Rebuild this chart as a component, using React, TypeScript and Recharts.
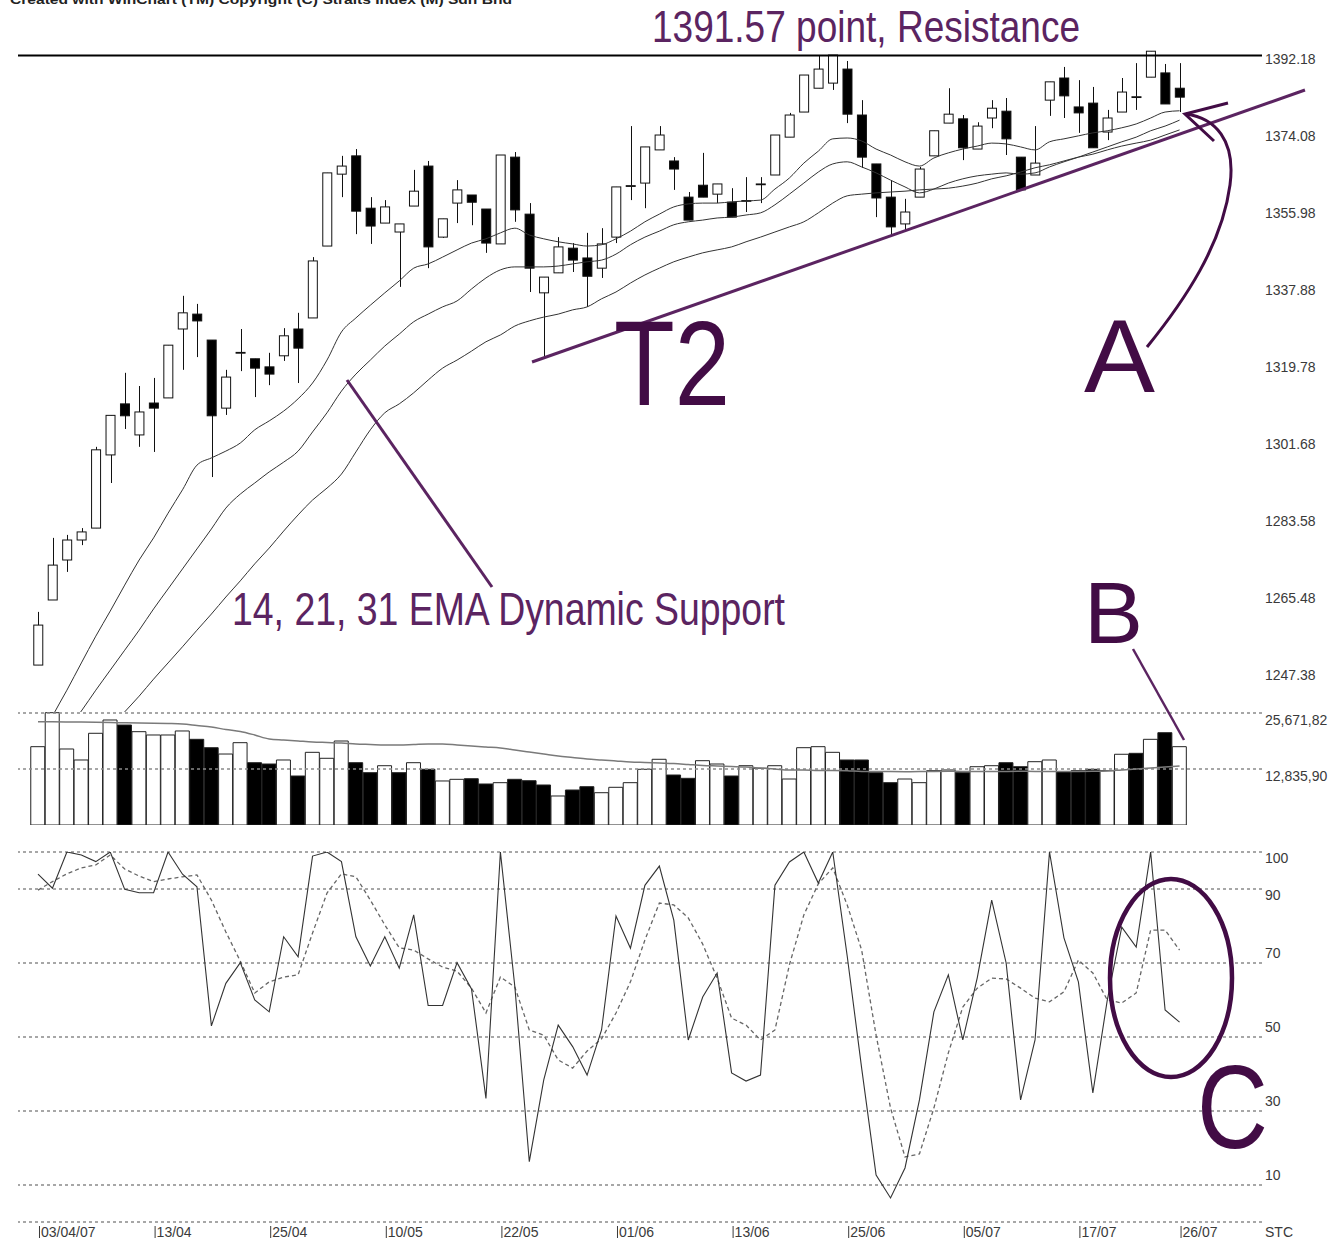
import React from 'react';
import { ComposedChart, Bar, Line, XAxis, YAxis, ReferenceLine, Cell } from 'recharts';

// ---------- DATA ----------
const openP = [
  1248.3, 1263.6, 1273.0, 1277.7, 1280.5, 1297.7, 1309.7, 1302.4, 1309.9, 1311.1,
  1327.3, 1330.8, 1324.7, 1308.7, 1321.7, 1320.3, 1318.4, 1321.0, 1327.3, 1329.9,
  1346.8, 1363.7, 1368.0, 1355.7, 1352.2, 1350.1, 1356.2, 1365.6, 1348.9, 1356.9,
  1358.8, 1355.5, 1347.3, 1367.7, 1354.3, 1335.8, 1340.5, 1346.3, 1344.0, 1341.6,
  1348.9, 1360.9, 1361.6, 1369.4, 1366.8, 1358.3, 1361.1, 1359.0, 1357.1, 1357.4,
  1361.3, 1363.5, 1372.4, 1378.3, 1383.9, 1385.1, 1388.4, 1377.6, 1366.1, 1358.3,
  1352.0, 1358.3, 1368.0, 1375.7, 1376.7, 1369.6, 1376.9, 1378.5, 1367.7, 1363.5,
  1381.1, 1386.3, 1379.5, 1380.4, 1373.6, 1378.3, 1381.8, 1386.5, 1387.5, 1383.9,
];
const highP = [
  1260.8, 1278.2, 1278.9, 1280.5, 1299.6, 1307.0, 1317.0, 1313.9, 1315.8, 1323.5,
  1335.1, 1333.2, 1324.7, 1317.7, 1327.3, 1320.3, 1321.7, 1327.5, 1331.1, 1344.2,
  1364.0, 1368.0, 1369.6, 1358.3, 1357.6, 1352.0, 1364.7, 1366.8, 1353.2, 1362.3,
  1358.8, 1355.5, 1368.2, 1368.9, 1356.9, 1339.5, 1348.9, 1347.5, 1349.9, 1351.0,
  1360.7, 1375.0, 1370.1, 1375.0, 1367.7, 1359.5, 1368.7, 1361.4, 1360.4, 1363.0,
  1363.0, 1372.9, 1378.1, 1387.0, 1391.7, 1391.7, 1390.3, 1381.1, 1366.1, 1362.3,
  1357.9, 1365.4, 1373.9, 1383.9, 1377.6, 1375.9, 1381.1, 1381.6, 1367.7, 1375.0,
  1385.4, 1388.9, 1385.8, 1384.2, 1378.8, 1386.3, 1389.8, 1392.6, 1389.6, 1389.8,
];
const lowP = [
  1248.3, 1263.6, 1270.2, 1276.5, 1280.5, 1291.1, 1303.8, 1299.6, 1298.4, 1311.1,
  1317.7, 1320.7, 1292.5, 1307.1, 1317.4, 1311.3, 1314.1, 1319.8, 1314.6, 1329.9,
  1346.8, 1358.3, 1349.6, 1347.3, 1352.2, 1337.2, 1356.2, 1341.6, 1348.7, 1352.2,
  1351.7, 1345.2, 1347.3, 1352.5, 1336.0, 1320.5, 1340.5, 1340.7, 1332.5, 1339.3,
  1347.5, 1357.6, 1355.7, 1369.4, 1360.0, 1352.9, 1358.3, 1356.9, 1353.6, 1354.8,
  1356.9, 1363.5, 1372.4, 1378.3, 1383.9, 1383.5, 1375.7, 1365.2, 1353.6, 1349.4,
  1350.3, 1358.3, 1368.0, 1375.7, 1367.0, 1369.6, 1374.5, 1368.2, 1360.0, 1363.5,
  1377.4, 1376.9, 1373.4, 1369.9, 1371.7, 1378.3, 1378.8, 1386.5, 1380.2, 1378.3,
];
const closeP = [
  1257.7, 1271.8, 1277.7, 1279.6, 1298.9, 1307.0, 1306.9, 1307.8, 1308.7, 1323.5,
  1331.1, 1329.2, 1306.9, 1316.0, 1321.8, 1318.1, 1316.7, 1325.7, 1322.8, 1343.3,
  1364.0, 1365.6, 1355.0, 1351.5, 1356.0, 1352.0, 1359.7, 1346.6, 1353.2, 1360.0,
  1357.1, 1347.5, 1368.2, 1355.3, 1341.6, 1339.5, 1346.6, 1343.5, 1339.7, 1347.3,
  1360.7, 1361.0, 1370.1, 1372.9, 1364.9, 1352.9, 1358.3, 1361.4, 1353.6, 1357.5,
  1361.4, 1372.9, 1377.6, 1387.0, 1388.4, 1391.7, 1377.8, 1367.7, 1358.1, 1351.3,
  1354.8, 1364.9, 1373.9, 1377.8, 1369.9, 1375.0, 1379.2, 1372.0, 1360.0, 1366.3,
  1385.4, 1382.1, 1378.1, 1369.9, 1376.9, 1383.0, 1381.9, 1392.6, 1380.2, 1381.8,
];
const ema14 = [
  1229.5, 1236.3, 1242.4, 1248.8, 1255.1, 1261.0, 1267.1, 1273.0, 1278.2, 1284.0,
  1289.5, 1295.3, 1297.0, 1298.6, 1300.5, 1303.6, 1305.7, 1308.0, 1310.9, 1314.6,
  1320.0, 1326.6, 1329.9, 1332.9, 1335.8, 1338.6, 1341.6, 1342.6, 1344.2, 1345.9,
  1347.5, 1348.5, 1349.9, 1351.0, 1349.4, 1348.5, 1347.8, 1347.3, 1346.8, 1347.1,
  1348.5, 1350.3, 1352.5, 1354.3, 1356.0, 1356.7, 1356.9, 1356.9, 1357.2, 1357.4,
  1357.6, 1360.2, 1362.8, 1366.3, 1369.1, 1372.0, 1372.2, 1371.5, 1369.6, 1368.2,
  1366.6, 1365.6, 1367.5, 1368.7, 1369.6, 1370.3, 1371.0, 1370.8, 1370.1, 1369.4,
  1371.3, 1372.0, 1372.7, 1373.4, 1373.9, 1374.6, 1375.5, 1376.9, 1378.3, 1378.6,
];
const ema21 = [
  1223.6, 1228.3, 1233.0, 1237.5, 1242.4, 1247.1, 1251.8, 1256.5, 1261.5, 1266.2,
  1270.9, 1275.6, 1280.3, 1285.2, 1288.5, 1291.1, 1293.7, 1296.0, 1298.6, 1303.1,
  1307.6, 1312.7, 1316.7, 1320.0, 1323.3, 1326.1, 1329.0, 1330.8, 1332.5, 1333.9,
  1336.7, 1339.3, 1341.2, 1341.9, 1341.9, 1341.9, 1342.1, 1342.6, 1343.1, 1343.5,
  1344.9, 1347.1, 1348.9, 1350.3, 1351.8, 1352.5, 1352.9, 1353.4, 1353.6, 1354.1,
  1354.6, 1356.5, 1359.0, 1361.6, 1364.2, 1366.1, 1366.6, 1365.4, 1364.0, 1362.3,
  1360.7, 1359.3, 1360.2, 1361.6, 1362.6, 1363.3, 1363.7, 1364.0, 1363.7, 1364.0,
  1365.4, 1366.6, 1367.7, 1368.9, 1370.1, 1371.3, 1372.4, 1373.9, 1375.0, 1376.4,
];
const ema31 = [
  1214.2, 1218.2, 1222.0, 1226.0, 1229.8, 1233.5, 1237.3, 1241.0, 1245.0, 1248.8,
  1252.6, 1256.5, 1260.3, 1264.3, 1268.1, 1272.1, 1275.8, 1279.8, 1283.6, 1287.1,
  1289.9, 1293.2, 1298.4, 1303.6, 1307.6, 1309.7, 1312.3, 1315.3, 1318.1, 1320.0,
  1322.1, 1324.3, 1325.9, 1328.0, 1329.2, 1330.1, 1330.8, 1331.8, 1332.5, 1334.4,
  1336.0, 1338.1, 1340.0, 1341.6, 1343.1, 1344.2, 1345.2, 1345.9, 1346.6, 1347.8,
  1348.9, 1350.1, 1351.3, 1352.5, 1354.6, 1356.9, 1358.6, 1359.0, 1359.3, 1359.5,
  1359.7, 1360.0, 1360.2, 1360.4, 1360.9, 1361.6, 1362.6, 1363.3, 1364.2, 1365.2,
  1365.9, 1366.8, 1367.7, 1368.4, 1369.4, 1370.3, 1371.0, 1371.7, 1372.9, 1374.1,
];
const volume = [
  17950, 25740, 17420, 14900, 21020, 24070, 22920, 21390, 20630, 20630,
  21550, 19640, 17720, 16270, 18870, 14280, 13980, 14900, 11230, 16660,
  15290, 19250, 14280, 11990, 13590, 11990, 14280, 12770, 10090, 10470,
  10610, 9400, 9700, 10470, 10150, 9170, 6650, 8020, 8780, 7400,
  8640, 9700, 12770, 15060, 11460, 10700, 14740, 13980, 11230, 13590,
  13000, 13590, 10540, 17720, 17950, 16660, 14900, 14900, 11990, 9700,
  10540, 9700, 12450, 12610, 11990, 13360, 13590, 14280, 13360, 14510,
  14900, 12220, 12450, 12770, 12450, 16210, 16430, 19640, 21160, 17950,
];
const volumeUp = [
  1, 1, 1, 1, 1, 1, 0, 1, 1, 1,
  1, 0, 0, 1, 1, 0, 0, 1, 0, 1,
  1, 1, 0, 0, 1, 0, 1, 0, 1, 1,
  0, 0, 1, 0, 0, 0, 1, 0, 0, 1,
  1, 1, 1, 1, 0, 0, 1, 1, 0, 1,
  1, 1, 1, 1, 1, 1, 0, 0, 0, 0,
  1, 1, 1, 1, 0, 1, 1, 0, 0, 1,
  1, 0, 0, 0, 1, 1, 0, 1, 0, 1,
];
const volumeMA = [
  23677, 23640, 23610, 23590, 23560, 23500, 23420, 23380, 23330, 23265,
  23150, 22806, 22463, 21890, 21431, 20629, 19712, 19483, 19254, 19024,
  18910, 18795, 18566, 18451, 18337, 18337, 18451, 18566, 18566, 18337,
  18108, 17878, 17649, 17191, 16732, 16274, 15815, 15472, 15128, 14899,
  14669, 14440, 14326, 14211, 14096, 13867, 13638, 13523, 13409, 13294,
  13065, 12836, 12607, 12607, 12492, 12492, 12446, 12263, 12290, 12240,
  12220, 12250, 12280, 12300, 12270, 12240, 12260, 12290, 12310, 12280,
  12250, 12240, 12270, 12308, 12377, 12607, 12836, 13065, 13294, 13523,
];
const stcK = [
  94.0, 90.2, 100, 99.2, 97.4, 100, 89.9, 89.0, 89.0, 100,
  94.0, 90.6, 53.0, 64.5, 70.1, 60.0, 56.8, 77.1, 71.7, 98.9,
  100, 97.4, 77.1, 69.2, 77.1, 68.6, 83.0, 58.5, 58.5, 70.1,
  63.0, 33.4, 100, 63.6, 16.3, 38.4, 53.2, 47.4, 39.7, 51.9,
  82.7, 74.0, 91.0, 96.2, 81.6, 49.2, 60.8, 67.3, 40.3, 38.1,
  39.7, 91.0, 97.3, 100, 91.6, 100, 71.9, 41.6, 12.7, 6.5,
  14.6, 33.0, 56.8, 66.8, 49.2, 66.0, 87.0, 70.0, 33.0, 49.2,
  100, 76.8, 64.9, 34.9, 60.0, 79.7, 74.3, 100, 57.3, 54.0,
];
const stcD = [
  89.7, 92.0, 94.1, 95.7, 96.5, 99.2, 95.4, 93.5, 92.0, 92.7,
  93.3, 93.8, 87.0, 78.4, 70.5, 61.9, 64.9, 66.2, 66.8, 78.1,
  88.9, 94.1, 93.3, 87.0, 80.3, 74.1, 73.5, 71.1, 68.9, 67.8,
  63.2, 56.5, 66.2, 63.5, 51.9, 50.5, 43.8, 41.6, 46.2, 49.5,
  56.5, 64.9, 76.2, 86.2, 85.7, 82.2, 75.1, 65.9, 55.1, 53.2,
  49.2, 51.9, 69.5, 83.0, 91.4, 95.7, 85.7, 73.5, 50.5, 30.8,
  17.6, 18.4, 30.8, 45.7, 58.1, 63.2, 65.9, 65.7, 63.2, 60.5,
  59.5, 62.2, 70.8, 67.3, 60.0, 59.2, 61.9, 78.9, 78.9, 73.5,
];
const priceTicks = [1392.18, 1374.08, 1355.98, 1337.88, 1319.78, 1301.68, 1283.58, 1265.48, 1247.38];
const volumeTicks = [25671.82, 12835.9];
const volumeTickLabels = ['25,671,82', '12,835,90'];
const stcTicks = [100, 90, 70, 50, 30, 10];
const stcGrid = [100, 90, 70, 50, 30, 10, 0];
const dateTickIndex = [0, 8, 16, 24, 32, 40, 48, 56, 64, 72, 79];
const dateTickLabels = ['03/04/07', '13/04', '25/04', '10/05', '22/05', '01/06', '13/06', '25/06', '05/07', '17/07', '26/07'];
const resistance = 1391.57;
const trendT2 = [
  { x: 34.19, y: 1319.54 },
  { x: 87.68, y: 1383.48 },
];

// ---------- STYLE ----------
const FONT = '"Liberation Sans", Arial, Helvetica, sans-serif';
const AXIS_COLOR = '#3a3a3a';
const PURPLE = '#5b2461';
const DARK_PURPLE = '#420c45';
const GRID = '#8a8a8a';
const X_DOMAIN: [number, number] = [-1.384, 84.706];
const PRICE_DOMAIN: [number, number] = [1237.27, 1394.06];
const VOL_DOMAIN: [number, number] = [0, 28651];

const rows = openP.map((o, i) => ({
  i,
  open: o,
  high: highP[i],
  low: lowP[i],
  close: closeP[i],
  range: [lowP[i], highP[i]],
  ema14: ema14[i],
  ema21: ema21[i],
  ema31: ema31[i],
  vol: volume[i],
  volMA: volumeMA[i],
  k: stcK[i],
  d: stcD[i],
}));

const Candle = (props: any) => {
  const { x, y, width, height, payload } = props;
  if (x == null || y == null || !payload) return null;
  const top = Math.min(y, y + height);
  const h = Math.abs(height);
  const { open, close, high, low } = payload;
  const span = high - low || 1;
  const ppu = h / span;
  const yO = top + (high - open) * ppu;
  const yC = top + (high - close) * ppu;
  const bodyTop = Math.min(yO, yC);
  const bodyH = Math.max(Math.abs(yO - yC), 0.8);
  const cx = Math.round(x + width / 2) + 0.5;
  const up = close >= open;
  return (
    <g>
      <line x1={cx} x2={cx} y1={top} y2={top + h} stroke="#111" strokeWidth={1} />
      <rect x={x} y={bodyTop} width={width} height={bodyH} fill={up ? '#fff' : '#000'} stroke="#111" strokeWidth={1} />
    </g>
  );
};

const PriceTick = (props: any) => {
  const { x, y, payload } = props;
  return (
    <text x={x} y={y} dy={11} textAnchor="start" fontFamily={FONT} fontSize={14} fill={AXIS_COLOR}>
      {Number(payload.value).toFixed(2)}
    </text>
  );
};

const VolTick = (props: any) => {
  const { x, y, payload } = props;
  const idx = volumeTicks.indexOf(payload.value);
  return (
    <text x={x} y={y} dy={12} textAnchor="start" fontFamily={FONT} fontSize={14} fill={AXIS_COLOR}>
      {idx >= 0 ? volumeTickLabels[idx] : payload.value}
    </text>
  );
};

const StcTick = (props: any) => {
  const { x, y, payload } = props;
  const v = Number(payload.value);
  const dy = v >= 90 ? 11 : -5;
  return (
    <text x={x} y={y} dy={dy} textAnchor="start" fontFamily={FONT} fontSize={14} fill={AXIS_COLOR}>
      {v}
    </text>
  );
};

const DateTick = (props: any) => {
  const { x, y, payload } = props;
  const idx = dateTickIndex.indexOf(payload.value);
  const label = idx >= 0 ? dateTickLabels[idx] : '';
  return (
    <g>
      <line x1={x + 1.5} x2={x + 1.5} y1={y} y2={y + 12} stroke={AXIS_COLOR} strokeWidth={1} />
      <text x={x + 3} y={y} dy={11} textAnchor="start" fontFamily={FONT} fontSize={14} fill={AXIS_COLOR}>
        {label}
      </text>
    </g>
  );
};

const PriceChart = () => (
  <ComposedChart width={1338} height={712} data={rows} margin={{ top: 45, right: 0, bottom: 0, left: 18 }}>
    <XAxis dataKey="i" type="number" domain={X_DOMAIN} allowDataOverflow hide />
    <YAxis
      orientation="right"
      width={76}
      type="number"
      domain={PRICE_DOMAIN}
      allowDataOverflow
      ticks={priceTicks}
      interval={0}
      tick={PriceTick}
      tickLine={false}
      axisLine={false}
      tickSize={0}
      tickMargin={3}
    />
    <ReferenceLine y={resistance} stroke="#000" strokeWidth={2} />
    <Line dataKey="ema31" type="monotone" stroke="#333" strokeWidth={1} dot={false} isAnimationActive={false} />
    <Line dataKey="ema21" type="monotone" stroke="#333" strokeWidth={1} dot={false} isAnimationActive={false} />
    <Line dataKey="ema14" type="monotone" stroke="#333" strokeWidth={1} dot={false} isAnimationActive={false} />
    <Bar dataKey="range" barSize={9} shape={Candle} isAnimationActive={false} />
    <ReferenceLine segment={trendT2} stroke={PURPLE} strokeWidth={3} ifOverflow="visible" />
  </ComposedChart>
);

const VolumeChart = () => (
  <ComposedChart width={1338} height={130} data={rows} margin={{ top: 0, right: 0, bottom: 5, left: 18 }}>
    <XAxis dataKey="i" type="number" domain={X_DOMAIN} allowDataOverflow hide />
    <YAxis
      orientation="right"
      width={76}
      type="number"
      domain={VOL_DOMAIN}
      allowDataOverflow
      ticks={volumeTicks}
      interval={0}
      tick={VolTick}
      tickLine={false}
      axisLine={false}
      tickSize={0}
      tickMargin={3}
    />
    {volumeTicks.map((v) => (
      <ReferenceLine key={v} y={v} stroke={GRID} strokeWidth={1.5} strokeDasharray="3 3" />
    ))}
    <Bar dataKey="vol" barSize={14} stroke="#222" strokeWidth={1} isAnimationActive={false}>
      {rows.map((r, i) => (
        <Cell key={i} fill={volumeUp[i] ? '#fff' : '#000'} />
      ))}
    </Bar>
    <Line dataKey="volMA" type="monotone" stroke="#7a7a7a" strokeWidth={1.5} dot={false} isAnimationActive={false} />
  </ComposedChart>
);

const StcChart = () => (
  <ComposedChart width={1338} height={403} data={rows} margin={{ top: 12, right: 0, bottom: 0, left: 18 }}>
    <XAxis
      dataKey="i"
      type="number"
      domain={X_DOMAIN}
      allowDataOverflow
      ticks={dateTickIndex}
      interval={0}
      tick={DateTick}
      height={21}
      tickSize={0}
      tickMargin={4}
      axisLine={false}
      tickLine={false}
    />
    <YAxis
      orientation="right"
      width={76}
      type="number"
      domain={[0, 100]}
      allowDataOverflow
      ticks={stcTicks}
      interval={0}
      tick={StcTick}
      tickLine={false}
      axisLine={false}
      tickSize={0}
      tickMargin={3}
    />
    {stcGrid.map((v) => (
      <ReferenceLine key={v} y={v} stroke={GRID} strokeWidth={1.5} strokeDasharray="3 3" />
    ))}
    <Line dataKey="d" type="linear" stroke="#666" strokeWidth={1.3} strokeDasharray="4 3" dot={false} isAnimationActive={false} />
    <Line dataKey="k" type="linear" stroke="#333" strokeWidth={1.1} dot={false} isAnimationActive={false} />
  </ComposedChart>
);

const Annotations = () => (
  <svg width={1338} height={1243} style={{ position: 'absolute', left: 0, top: 0, pointerEvents: 'none' }}>
    <text x={10} y={4} fontFamily={FONT} fontWeight="bold" fontSize={13} fill="#222" textLength={502} lengthAdjust="spacingAndGlyphs">
      Created with WinChart (TM)  Copyright (C) Straits Index (M) Sdn Bhd
    </text>
    <text x={652} y={42} fontFamily={FONT} fontSize={45} fill={PURPLE} textLength={428} lengthAdjust="spacingAndGlyphs">
      1391.57 point, Resistance
    </text>
    <text x={232} y={625} fontFamily={FONT} fontSize={46} fill={PURPLE} textLength={553} lengthAdjust="spacingAndGlyphs">
      14, 21, 31 EMA Dynamic Support
    </text>
    <text x={614} y={405} fontFamily={FONT} fontSize={121} fill={DARK_PURPLE} textLength={116} lengthAdjust="spacingAndGlyphs">
      T2
    </text>
    <text x={1084} y={392} fontFamily={FONT} fontSize={103} fill={DARK_PURPLE} textLength={71} lengthAdjust="spacingAndGlyphs">
      A
    </text>
    <text x={1084} y={643} fontFamily={FONT} fontSize={88} fill={DARK_PURPLE} textLength={59} lengthAdjust="spacingAndGlyphs">
      B
    </text>
    <text x={1197} y={1148} fontFamily={FONT} fontSize={118} fill={DARK_PURPLE} textLength={71} lengthAdjust="spacingAndGlyphs">
      C
    </text>
    <line x1={347} y1={380} x2={492} y2={587} stroke={PURPLE} strokeWidth={3} />
    <line x1={1133} y1={649} x2={1184} y2={740} stroke={PURPLE} strokeWidth={2.5} />
    <path d="M1147,347 C1185,300 1222,245 1230,185 C1236,140 1215,118 1186,114" fill="none" stroke={DARK_PURPLE} strokeWidth={3} />
    <path d="M1228,103 L1185,114 L1214,141" fill="none" stroke={DARK_PURPLE} strokeWidth={3} />
    <ellipse cx={1171} cy={978} rx={61} ry={99} fill="none" stroke={DARK_PURPLE} strokeWidth={4.5} />
    <text x={1265} y={1237} fontFamily={FONT} fontSize={14} fill={AXIS_COLOR}>
      STC
    </text>
  </svg>
);

export default function App() {
  return (
    <div style={{ position: 'absolute', left: 0, top: 0, width: 1338, height: 1243, background: '#fff', overflow: 'hidden' }}>
      <div style={{ position: 'absolute', left: 0, top: 0 }}>
        <PriceChart />
      </div>
      <div style={{ position: 'absolute', left: 0, top: 700 }}>
        <VolumeChart />
      </div>
      <div style={{ position: 'absolute', left: 0, top: 840 }}>
        <StcChart />
      </div>
      <Annotations />
    </div>
  );
}
